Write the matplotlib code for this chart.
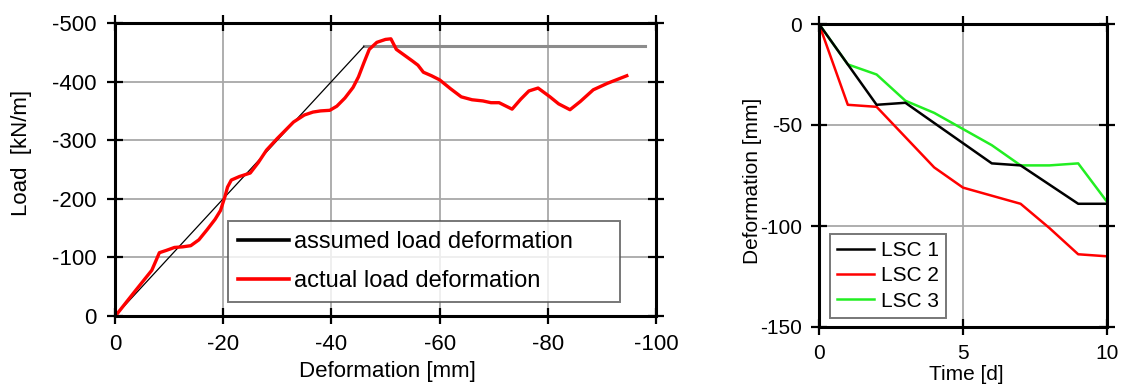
import numpy as np
import matplotlib
matplotlib.use("Agg")
import matplotlib.pyplot as plt

plt.rcParams['font.family'] = ['Liberation Sans', 'DejaVu Sans']
plt.rcParams['axes.unicode_minus'] = False

# left panel: load vs deformation
assumed_def = [0, -46]
assumed_load = [0, -460]
plateau_def = [-46, -98]
plateau_load = [-460, -460]

actual_def = [-0.5, -3.5, -6.8, -7.6, -8.2, -9.5, -11, -12.5, -14, -15.5, -17, -18.5,
              -19.5, -20.3, -20.8, -21.5, -23, -25, -26.5, -28, -30, -33, -35, -36.6,
              -38, -39.7, -41, -42.5, -44, -45, -46, -47, -48.4, -50, -51, -52, -53.5,
              -55, -56, -57, -58.5, -60, -62, -64, -66, -68, -69.5, -71, -73.4, -75,
              -76.5, -78.2, -80.4, -82, -84.1, -86, -88.4, -91, -94.6]
actual_load = [-5, -40, -78, -95, -108, -112, -117, -118, -120, -130, -147, -165,
               -180, -203, -220, -232, -238, -244, -262, -283, -303, -331, -343, -348,
               -350, -351, -358, -372, -390, -408, -432, -455, -467, -472, -473, -455, -445,
               -435, -428, -416, -410, -403, -388, -374, -369, -367, -364, -364, -353, -370,
               -384, -389, -374, -362, -352, -366, -386, -397, -410]

# right panel: deformation over time
time_d = [0, 1, 2, 3, 4, 5, 6, 7, 8, 9, 10]
lsc1_t = [0, 2, 3, 6, 7, 9, 10]
lsc1 = [0, -40, -39, -69, -70, -89, -89]
lsc2 = [0, -40, -41, -56, -71, -81, -85, -89, -101, -114, -115]
lsc3 = [0, -20, -25, -38, -44, -52, -60, -70, -70, -69, -88]

W, H = 1124, 390
fig = plt.figure(figsize=(W / 100, H / 100), dpi=100)


def px_axes(x0, x1, ytop, ybot):
    return fig.add_axes([x0 / W, 1 - ybot / H, (x1 - x0) / W, (ybot - ytop) / H])


def style(ax, fs, pad):
    for s in ax.spines.values():
        s.set_linewidth(2.2)
        s.set_color('black')
    ax.tick_params(direction='inout', length=12, width=1.6, labelsize=fs, pad=pad,
                   top=True, right=True, labeltop=False, labelright=False)
    ax.grid(True, color='#a8a8a8', lw=1.3)
    ax.set_axisbelow(True)


# ---- left
ax1 = px_axes(115, 656, 23, 316)
ax1.plot(plateau_def, plateau_load, color='#8c8c8c', lw=2.2)
ax1.plot(assumed_def, assumed_load, color='black', lw=0.9, label='assumed load deformation')
ax1.plot(actual_def, actual_load, color='#ff0000', lw=2.4, label='actual load deformation')
ax1.set_xlim(0, -100)
ax1.set_ylim(0, -500)
ax1.set_xticks([0, -20, -40, -60, -80, -100])
ax1.set_yticks([0, -100, -200, -300, -400, -500])
style(ax1, 16, 7)
fig.text(387 / W, 1 - 371 / H, 'Deformation [mm]', fontsize=16, ha='center', va='center')
fig.text(22 / W, 1 - 153 / H, 'Load  [kN/m]', rotation=90, fontsize=16,
         ha='center', va='center')
leg1 = ax1.legend(loc='lower left', bbox_to_anchor=(0.209, 0.048, 0.724, 0.283),
                  mode='expand', fontsize=17, frameon=True, fancybox=False,
                  handlelength=2.2, handletextpad=0.2, labelspacing=0.75,
                  borderaxespad=0, borderpad=0.4)
leg1.get_frame().set_edgecolor('#555555')
leg1.get_frame().set_linewidth(1.4)
for h in leg1.get_lines():
    h.set_linewidth(2.6)

# ---- right
ax2 = px_axes(819, 1107, 24, 327)
ax2.plot(time_d, lsc3, color='#22ee22', lw=1.8, label='LSC 3')
ax2.plot(time_d, lsc2, color='#ff0000', lw=1.8, label='LSC 2')
ax2.plot(lsc1_t, lsc1, color='black', lw=1.8, label='LSC 1')
ax2.set_xlim(0, 10)
ax2.set_ylim(-150, 0)
ax2.set_xticks([0, 5, 10])
ax2.set_yticks([0, -50, -100, -150])
style(ax2, 15, 6)
fig.text(966 / W, 1 - 375 / H, 'Time [d]', fontsize=15, ha='center', va='center')
fig.text(752 / W, 1 - 181 / H, 'Deformation [mm]', rotation=90, fontsize=15,
         ha='center', va='center')
hs, ls = ax2.get_legend_handles_labels()
leg2 = ax2.legend(hs[::-1], ls[::-1], loc='lower left', bbox_to_anchor=(0.038, 0.03),
                  fontsize=15, frameon=True, fancybox=False, handlelength=1.75,
                  handletextpad=0.35, labelspacing=0.3, borderaxespad=0, borderpad=0.35)
leg2.get_frame().set_edgecolor('#555555')
leg2.get_frame().set_linewidth(1.4)

fig.savefig('out.png', dpi=100)
